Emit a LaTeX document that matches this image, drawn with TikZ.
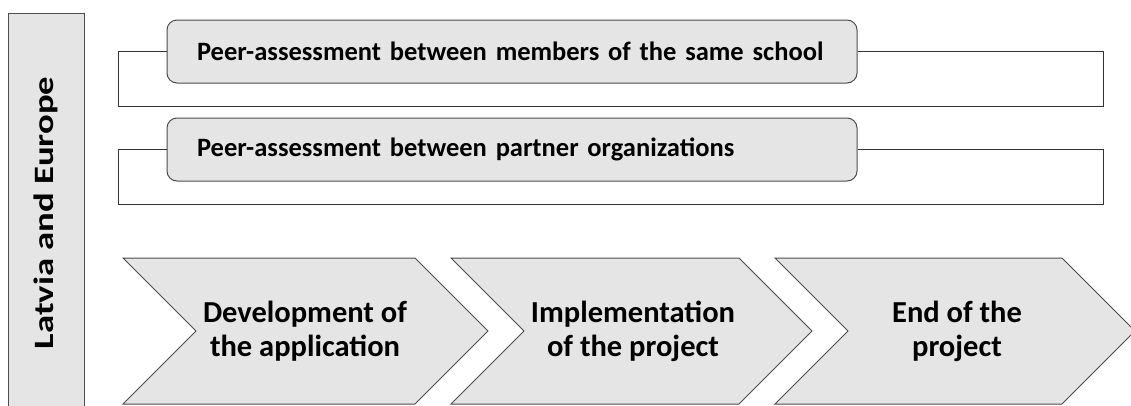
\documentclass[tikz,border=0pt]{standalone}
\usepackage{fontspec}
\setmainfont{Carlito}
\usepackage{graphicx}
\usepackage{tikz}
\usetikzlibrary{positioning}
\tikzset{
  phase/.style={draw=black!70, fill=black!10, line width=1pt},
  phasetext/.style={align=center, font=\fontsize{30.5}{34}\selectfont\bfseries},
  review/.style={draw=black!70, fill=black!10, rounded corners=10pt, line width=1pt,
    minimum width=690pt, minimum height=63pt, text width=630pt, inner xsep=30pt,
    align=left, font=\fontsize{26.5}{30}\selectfont\bfseries},
  region/.style={draw=black!70, fill=black!10, line width=1pt, rotate=90,
    minimum width=400pt, minimum height=76pt, font=\fontsize{28}{33}\selectfont\bfseries},
  frame/.style={draw=black!80, line width=1pt}
}
\begin{document}
\begin{tikzpicture}[x=1pt,y=-1pt]
\clip (0,0) rectangle (1131,405);

\node[region] (area) at (46,213) {\scalebox{1.31}[1]{Latvia and Europe}};

\node[review] (school) at (512,51.5) {Peer-assessment between members of the same school};
\node[review] (partner) at (512,149.5) {Peer-assessment between partner organizations};

\coordinate (sl) at (118,106);
\coordinate (sr) at (1103,106);
\coordinate (pl) at (118,204);
\coordinate (pr) at (1103,204);
\draw[frame] (school.west) -| (sl) -- (sr) |- (school.east);
\draw[frame] (partner.west) -| (pl) -- (pr) |- (partner.east);

% phases of the project
\foreach \x/\w/\n/\t in {123/292/dev/{Development of\\the application},
    451/288/impl/{Implementation\\of the project},
    775/287/fin/{End of the\\project}}{
  \draw[phase] (\x,258) -- ++(\w,0) -- ++(73,73) -- ++(-73,73) -- ++(-\w,0) -- ++(73,-73) -- cycle;
  \node[phasetext] (\n) at (\x+182,331) {\t};
}
\end{tikzpicture}
\end{document}
